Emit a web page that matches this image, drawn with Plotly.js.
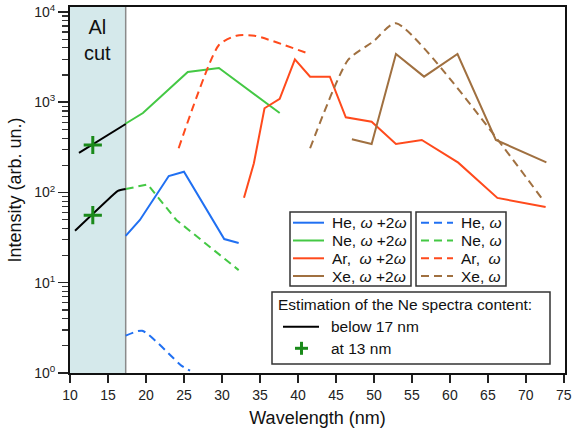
<!DOCTYPE html>
<html>
<head>
<meta charset="utf-8">
<script src="https://cdn.plot.ly/plotly-3.0.1.min.js"></script>
<style>html,body{margin:0;padding:0;background:#fff}#chart{width:572px;height:428px}</style>
</head>
<body>
<div id="chart"></div>
<script>
// ---- data ----
const heX_w2w = [17.33, 19.2, 23.0, 25.0, 30.3, 32.2];
const heY_w2w = [33, 49.6, 152, 170, 30.5, 27.6];
const neX_w2w = [17.24, 19.6, 25.5, 29.6, 37.6];
const neY_w2w = [574, 760, 2163, 2398, 760];
const arX_w2w = [32.9, 34.2, 35.6, 37.6, 39.6, 41.6, 44.2, 46.3, 49.7, 52.9, 56.3, 61.1, 66.25, 72.6];
const arY_w2w = [87.6, 211, 857, 1087, 2990, 1920, 1920, 681, 609, 345, 382, 214, 87, 69];
const xeX_w2w = [47.1, 49.7, 52.9, 56.6, 61.0, 66.05, 72.7];
const xeY_w2w = [388, 345, 3425, 1920, 3425, 382, 216];

const heX_w = [17.33, 19.5, 24.7, 25.8];
const heY_w = [2.59, 2.94, 1.20, 1.06];
const neX_w = [17.33, 20.2, 24.0, 32.2];
const neY_w = [109, 123, 49.6, 13.8];
const arX_w = [24.3, 29.6, 31.9, 34.3, 41.6];
const arY_w = [309, 4310, 5460, 5460, 3400];
const xeX_w = [41.6, 46.6, 49.9, 52.9, 72.1];
const xeY_w = [309, 2940, 4690, 7500, 86];

const estUpperX = [11.18, 17.33];
const estUpperY = [274, 574];
const estLowerX = [10.66, 15.66, 16.3, 17.33];
const estLowerY = [37.7, 93.8, 104, 109];
const at13X = [13.0, 13.0];
const at13Y = [336, 56];

const alCutRange = [10, 17.33];
const xTick0 = 10, xTickStep = 5;
const yTickVals = [1, 10, 100, 1000, 10000];
const yTickText = ['10<sup>0</sup>', '10<sup>1</sup>', '10<sup>2</sup>', '10<sup>3</sup>', '10<sup>4</sup>'];

const legendSolid = ['He, <i>ω</i> +2<i>ω</i>', 'Ne, <i>ω</i> +2<i>ω</i>', 'Ar,\u00a0 <i>ω</i> +2<i>ω</i>', 'Xe, <i>ω</i> +2<i>ω</i>'];
const legendDashed = ['He, <i>ω</i>', 'Ne, <i>ω</i>', 'Ar,\u00a0 <i>ω</i>', 'Xe, <i>ω</i>'];
const estTitle = 'Estimation of the Ne spectra content:';
const estLabels = ['below 17 nm', 'at 13 nm'];

// ---- styles ----
const C = {He: '#2070f2', Ne: '#44c844', Ar: '#ff4a1c', Xe: '#a07040'};
const gasColors = [C.He, C.Ne, C.Ar, C.Xe];
const plusColor = '#1a8a1a';
const DASH = '8px,5px';
const FONT = 'Liberation Sans, Arial, sans-serif';

function line(x, y, color, dash, shape) {
  return {x: x, y: y, type: 'scatter', mode: 'lines', showlegend: false, hoverinfo: 'skip',
    line: {color: color, width: 2, dash: dash || 'solid', shape: shape || 'linear', smoothing: 0.6}};
}

const traces = [
  line(neX_w2w, neY_w2w, C.Ne),
  line(arX_w2w, arY_w2w, C.Ar),
  line(xeX_w2w, xeY_w2w, C.Xe),
  line(heX_w2w, heY_w2w, C.He),
  line(heX_w, heY_w, C.He, DASH, 'spline'),
  line(neX_w, neY_w, C.Ne, DASH),
  line(arX_w, arY_w, C.Ar, DASH, 'spline'),
  line(xeX_w, xeY_w, C.Xe, DASH, 'spline'),
  line(estUpperX, estUpperY, '#000'),
  line(estLowerX, estLowerY, '#000', 'solid', 'spline'),
  {x: at13X, y: at13Y, type: 'scatter', mode: 'markers', showlegend: false, hoverinfo: 'skip',
   marker: {symbol: 'cross-thin', size: 13, line: {color: plusColor, width: 3}}}
];

// pixel -> paper helpers for the hand-drawn legend boxes
const L = 70, T = 7, W = 495, H = 366;
const px = v => (v - L) / W;
const py = v => (T + H - v) / H;

const shapes = [
  {type: 'rect', xref: 'x', yref: 'paper', x0: alCutRange[0], x1: alCutRange[1], y0: 0, y1: 1,
   fillcolor: '#d5e9eb', line: {width: 0}, layer: 'below'},
  {type: 'line', xref: 'x', yref: 'paper', x0: alCutRange[1], x1: alCutRange[1], y0: 0, y1: 1,
   line: {color: '#8a8a8a', width: 1.5}, layer: 'below'}
];
const annotations = [
  {xref: 'x', yref: 'paper', x: (alCutRange[0] + alCutRange[1]) / 2, y: py(39.5), text: 'Al<br>cut',
   showarrow: false, xanchor: 'center', yanchor: 'middle', font: {family: FONT, size: 20, color: '#111'}}
];

function box(x0, y0, x1, y1) {
  shapes.push({type: 'rect', xref: 'paper', yref: 'paper', x0: px(x0), x1: px(x1), y0: py(y0), y1: py(y1),
    fillcolor: '#fff', line: {color: '#333', width: 1.5}});
}
function label(x, y, text) {
  annotations.push({xref: 'paper', yref: 'paper', x: px(x), y: py(y), text: text, showarrow: false,
    xanchor: 'left', yanchor: 'middle', font: {family: FONT, size: 15.5, color: '#111'}});
}
function sample(x0, x1, y, color, dash) {
  shapes.push({type: 'line', xref: 'paper', yref: 'paper', x0: px(x0), x1: px(x1), y0: py(y), y1: py(y),
    line: {color: color, width: 2, dash: dash || 'solid'}});
}

box(290, 212, 411, 286);
box(416, 212, 506, 286);
const rows = [222.7, 240.5, 258.3, 276];
rows.forEach((ry, i) => {
  sample(293, 324, ry, gasColors[i]);
  label(330, ry, legendSolid[i]);
  sample(421, 453, ry, gasColors[i], DASH);
  label(459, ry, legendDashed[i]);
});

box(272, 292, 550, 364);
label(276, 304.5, estTitle);
sample(283, 319, 326.7, '#000');
label(329, 326.7, estLabels[0]);
shapes.push({type: 'line', xref: 'paper', yref: 'paper', x0: px(295), x1: px(308), y0: py(348.3), y1: py(348.3),
  line: {color: plusColor, width: 3}});
shapes.push({type: 'line', xref: 'paper', yref: 'paper', x0: px(301.5), x1: px(301.5), y0: py(341.8), y1: py(354.8),
  line: {color: plusColor, width: 3}});
label(329, 348.3, estLabels[1]);

const layout = {
  width: 572, height: 428,
  margin: {l: L, r: 572 - L - W, t: T, b: 428 - T - H, pad: 0},
  paper_bgcolor: '#fff', plot_bgcolor: '#fff',
  font: {family: FONT, color: '#222'},
  showlegend: false,
  xaxis: {
    range: [10, 75.15], tickmode: 'linear', tick0: xTick0, dtick: xTickStep,
    ticks: 'outside', ticklen: 8, tickwidth: 1.5, tickcolor: '#222',
    showgrid: false, zeroline: false, showline: true, mirror: true, linewidth: 2, linecolor: '#111',
    tickfont: {family: FONT, size: 14, color: '#222'}, ticklabeloverflow: 'allow',
    title: {text: 'Wavelength (nm)', font: {family: FONT, size: 18, color: '#111'}, standoff: 13}
  },
  yaxis: {
    type: 'log', range: [0, 4.055], tickmode: 'array', tickvals: yTickVals, ticktext: yTickText,
    ticks: 'outside', ticklen: 10, tickwidth: 1.5, tickcolor: '#222',
    minor: {ticks: 'outside', ticklen: 6, tickwidth: 1.2, tickcolor: '#333', dtick: 'D1', showgrid: false},
    showgrid: false, zeroline: false, showline: true, mirror: true, linewidth: 2, linecolor: '#111',
    tickfont: {family: FONT, size: 14, color: '#222'},
    title: {text: 'Intensity (arb. un.)', font: {family: FONT, size: 18, color: '#111'}, standoff: 8}
  },
  shapes: shapes,
  annotations: annotations
};

Plotly.newPlot('chart', traces, layout, {displayModeBar: false, staticPlot: true});
</script>
</body>
</html>
